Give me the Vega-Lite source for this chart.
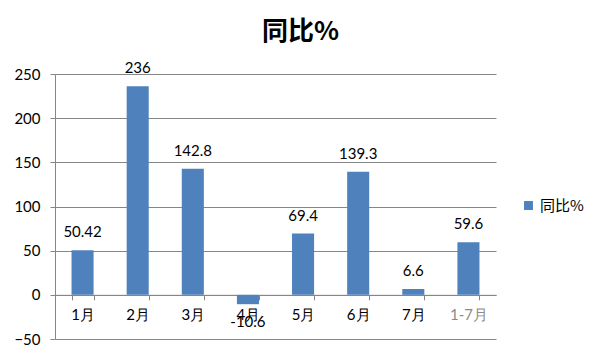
{
  "$schema": "https://vega.github.io/schema/vega-lite/v6.json",
  "width": 441,
  "height": 265,
  "autosize": "none",
  "padding": {"left": 55, "top": 74, "right": 104, "bottom": 21},
  "background": "white",
  "title": {"text": "同比%", "fontSize": 26, "fontWeight": "bold", "font": "Noto Sans CJK SC", "anchor": "middle", "dx": 25, "offset": 16, "color": "black"},
  "config": {
    "view": {"stroke": null},
    "font": "Lato"
  },
  "data": {"values": [
    {"month": "1月", "value": 50.42, "label": "50.42"},
    {"month": "2月", "value": 236, "label": "236"},
    {"month": "3月", "value": 142.8, "label": "142.8"},
    {"month": "4月", "value": -10.6, "label": "-10.6"},
    {"month": "5月", "value": 69.4, "label": "69.4"},
    {"month": "6月", "value": 139.3, "label": "139.3"},
    {"month": "7月", "value": 6.6, "label": "6.6"},
    {"month": "1-7月", "value": 59.6, "label": "59.6"}
  ]},
  "encoding": {
    "x": {"field": "month", "type": "nominal", "sort": null,
      "scale": {"paddingInner": 0.6, "paddingOuter": 0.3},
      "axis": {"title": null, "labelAngle": 0, "offset": -44.17, "domainColor": "#868686", "tickColor": "#868686", "tickBand": "extent", "tickSize": 5, "labelPadding": 8, "labelFontSize": 15, "labelFont": "Lato",
        "labelColor": {"condition": {"test": "datum.value == '1-7月'", "value": "#8a8a8a"}, "value": "black"}, "grid": false}},
    "y": {"field": "value", "type": "quantitative",
      "scale": {"domain": [-50, 250], "nice": false, "zero": false},
      "axis": {"title": null, "values": [-50, 0, 50, 100, 150, 200, 250], "grid": true, "gridColor": "#868686", "domainColor": "#868686", "tickColor": "#868686", "tickSize": 5, "labelPadding": 10, "labelFontSize": 15, "labelColor": "black"}}
  },
  "layer": [
    {"mark": {"type": "bar"},
     "encoding": {"color": {"datum": "同比%", "type": "nominal", "scale": {"range": ["#4F81BD"]},
       "legend": {"title": null, "orient": "none", "legendX": 466, "legendY": 124, "symbolType": "square", "symbolSize": 80, "labelFontSize": 15, "labelFont": "Noto Sans CJK SC", "labelColor": "black", "symbolStrokeWidth": 0}}}},
    {"transform": [{"filter": "datum.value >= 0"}],
     "mark": {"type": "text", "baseline": "middle", "dy": -18, "fontSize": 15, "color": "black"},
     "encoding": {"text": {"field": "label"}}},
    {"transform": [{"filter": "datum.value < 0"}],
     "mark": {"type": "text", "baseline": "middle", "dy": 18, "fontSize": 15, "color": "black"},
     "encoding": {"text": {"field": "label"}}}
  ]
}
